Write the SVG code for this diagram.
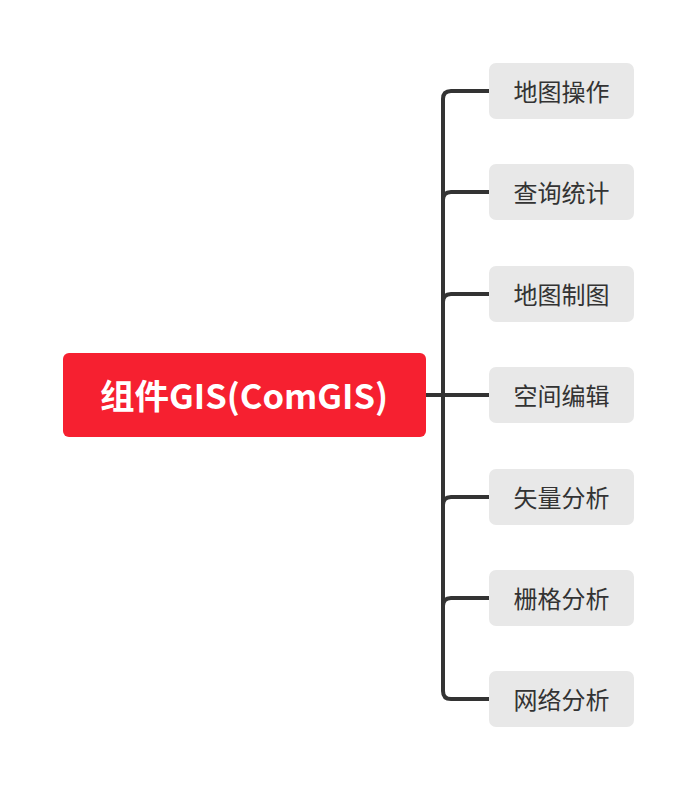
<svg xmlns="http://www.w3.org/2000/svg" width="696" height="790" viewBox="0 0 696 790">
<style>
.c{fill:#e8e8e8}
.ct{font-family:"Noto Sans CJK SC","Noto Sans",sans-serif;font-size:24px;fill:#333;text-anchor:middle;dominant-baseline:central}
.ln{fill:none;stroke:#333;stroke-width:4;stroke-linecap:butt}
</style>
<rect width="696" height="790" fill="#fff"/>
<g id="connectors">
<path class="ln" d="M426 395H443"/>
<path class="ln" d="M489 91H451Q443 91 443 99V691Q443 699 451 699H489"/>
<path class="ln" d="M489 192H451Q443 192 443 200"/>
<path class="ln" d="M489 294H451Q443 294 443 302"/>
<path class="ln" d="M443 395H489"/>
<path class="ln" d="M489 497H451Q443 497 443 505"/>
<path class="ln" d="M489 598H451Q443 598 443 606"/>
</g>
<g id="root">
<rect x="63" y="353" width="363" height="84" rx="6" fill="#f62030"/>
<text x="244" y="394" font-family="'Noto Sans CJK SC','Noto Sans',sans-serif" font-size="34" font-weight="bold" fill="#fff" text-anchor="middle" dominant-baseline="central" textLength="288" lengthAdjust="spacingAndGlyphs">组件GIS(ComGIS)</text>
</g>
<g id="n1"><rect class="c" x="489" y="63" width="145" height="56" rx="7"/><text class="ct" x="561.5" y="90">地图操作</text></g>
<g id="n2"><rect class="c" x="489" y="164" width="145" height="56" rx="7"/><text class="ct" x="561.5" y="191">查询统计</text></g>
<g id="n3"><rect class="c" x="489" y="266" width="145" height="56" rx="7"/><text class="ct" x="561.5" y="293">地图制图</text></g>
<g id="n4"><rect class="c" x="489" y="367" width="145" height="56" rx="7"/><text class="ct" x="561.5" y="394">空间编辑</text></g>
<g id="n5"><rect class="c" x="489" y="469" width="145" height="56" rx="7"/><text class="ct" x="561.5" y="496">矢量分析</text></g>
<g id="n6"><rect class="c" x="489" y="570" width="145" height="56" rx="7"/><text class="ct" x="561.5" y="597">栅格分析</text></g>
<g id="n7"><rect class="c" x="489" y="671" width="145" height="56" rx="7"/><text class="ct" x="561.5" y="698">网络分析</text></g>
</svg>
